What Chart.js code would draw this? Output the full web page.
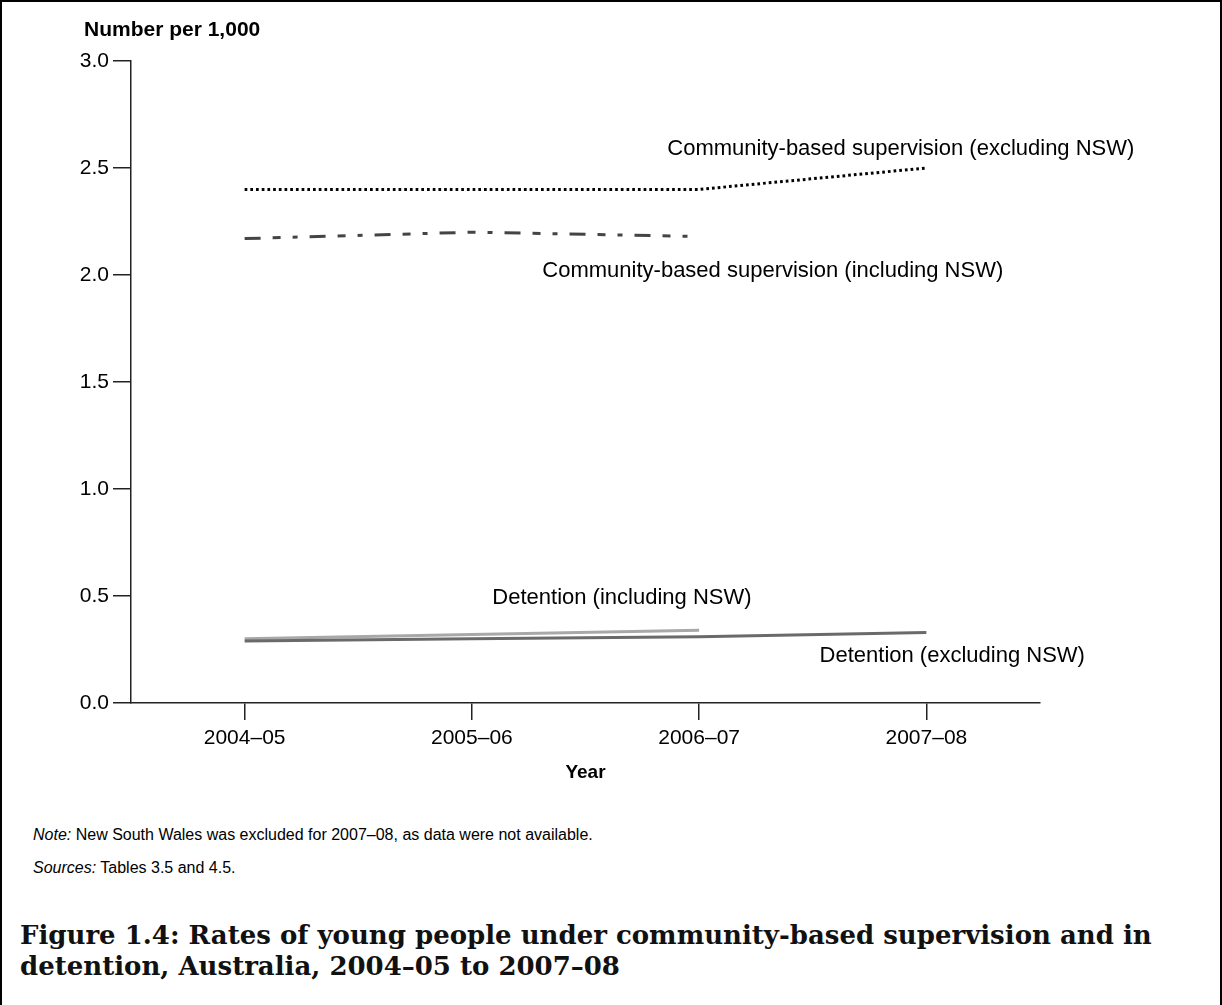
<!DOCTYPE html>
<html>
<head>
<meta charset="utf-8">
<script src="https://cdn.jsdelivr.net/npm/chart.js@4.4.0/dist/chart.umd.min.js"></script>
<style>
  html, body { margin: 0; padding: 0; background: #fff; }
  body { width: 1222px; height: 1005px; position: relative; overflow: hidden; font-family: "Liberation Sans", Arial, sans-serif; }
  .frame { position: absolute; left: 0; top: 0; width: 1222px; height: 1020px; box-sizing: border-box; border: 2px solid #000; border-bottom: none; }
  .chart-box { position: absolute; left: 0; top: 0; width: 1222px; height: 800px; }
  .y-title { position: absolute; left: 84px; top: 17px; font-weight: bold; font-size: 21px; color: #000; }
  .note { position: absolute; left: 33px; font-size: 16px; color: #000; }
  .note i { font-style: italic; }
  .caption { position: absolute; left: 20px; top: 920px; font-family: "DejaVu Serif", "Liberation Serif", serif; font-weight: bold; font-size: 26px; line-height: 31px; color: #111; white-space: nowrap; }
</style>
</head>
<body>
<div class="frame"></div>
<div class="chart-box"><canvas id="chart" width="1222" height="800"></canvas></div>
<div class="y-title">Number per 1,000</div>
<div class="note" style="top: 826px;"><i>Note:</i> New South Wales was excluded for 2007–08, as data were not available.</div>
<div class="note" style="top: 859px;"><i>Sources:</i> Tables 3.5 and 4.5.</div>
<div class="caption">Figure 1.4: Rates of young people under community-based supervision and in<br>detention, Australia, 2004–05 to 2007–08</div>

<script>
  // Données
  const years = ['2004–05', '2005–06', '2006–07', '2007–08'];
  const communityExclNSW = [2.40, 2.40, 2.40, 2.50];
  const communityInclNSW = [2.17, 2.20, 2.18, null];
  const detentionInclNSW = [0.30, 0.32, 0.34, null];
  const detentionExclNSW = [0.29, 0.30, 0.31, 0.33];
  const yTicks = [0, 0.5, 1.0, 1.5, 2.0, 2.5, 3.0];

  // Libellés posés dans le graphique (x = index de catégorie, y = valeur)
  const seriesLabels = [
    { text: 'Community-based supervision (excluding NSW)', x: 1.86, y: 2.59 },
    { text: 'Community-based supervision (including NSW)', x: 1.31, y: 2.02 },
    { text: 'Detention (including NSW)', x: 1.09, y: 0.49 },
    { text: 'Detention (excluding NSW)', x: 2.53, y: 0.22 }
  ];

  const FONT = '"Liberation Sans", Arial, sans-serif';

  const labelPlugin = {
    id: 'seriesLabels',
    afterDatasetsDraw(chart) {
      const { ctx, scales: { x, y } } = chart;
      ctx.save();
      ctx.font = '22px ' + FONT;
      ctx.fillStyle = '#000';
      ctx.textAlign = 'left';
      ctx.textBaseline = 'middle';
      seriesLabels.forEach(l => {
        ctx.fillText(l.text, x.getPixelForValue(l.x), y.getPixelForValue(l.y));
      });
      ctx.restore();
    }
  };

  new Chart(document.getElementById('chart'), {
    type: 'line',
    data: {
      labels: years,
      datasets: [
        {
          label: 'Detention (excluding NSW)',
          data: detentionExclNSW,
          borderColor: '#6a6a6a',
          borderWidth: 3
        },
        {
          label: 'Detention (including NSW)',
          data: detentionInclNSW,
          borderColor: '#a8a8a8',
          borderWidth: 3
        },
        {
          label: 'Community-based supervision (including NSW)',
          data: communityInclNSW,
          borderColor: '#444',
          borderWidth: 3,
          borderDash: [16, 12, 8, 12, 5, 12]
        },
        {
          label: 'Community-based supervision (excluding NSW)',
          data: communityExclNSW,
          borderColor: '#000',
          borderWidth: 3,
          borderDash: [2.7, 3]
        }
      ]
    },
    options: {
      responsive: false,
      animation: false,
      layout: { padding: { top: 61, right: 182, bottom: 0, left: 0 } },
      elements: {
        point: { radius: 0, hoverRadius: 0 },
        line: { tension: 0, fill: false, borderCapStyle: 'butt' }
      },
      plugins: {
        legend: { display: false },
        tooltip: { enabled: false }
      },
      scales: {
        x: {
          type: 'category',
          offset: true,
          grid: { offset: false, drawOnChartArea: false, drawTicks: true, tickLength: 17, color: '#222', lineWidth: 1.5 },
          border: { display: true, color: '#222', width: 1.5 },
          ticks: { color: '#000', font: { family: FONT, size: 21 }, padding: 6, maxRotation: 0 },
          title: { display: true, text: 'Year', color: '#000', font: { family: FONT, size: 19, weight: 'bold' }, padding: { top: 4, bottom: 16 } },
          afterFit(scale) { scale.height = 97; }
        },
        y: {
          min: 0,
          max: 3,
          afterBuildTicks(scale) { scale.ticks = yTicks.map(v => ({ value: v })); },
          grid: { drawOnChartArea: false, drawTicks: true, tickLength: 18, color: '#222', lineWidth: 1.5 },
          border: { display: true, color: '#222', width: 1.5 },
          ticks: { color: '#000', font: { family: FONT, size: 21 }, padding: 4, callback: v => v.toFixed(1) },
          afterFit(scale) { scale.width = 131; }
        }
      }
    },
    plugins: [labelPlugin]
  });
</script>
</body>
</html>
